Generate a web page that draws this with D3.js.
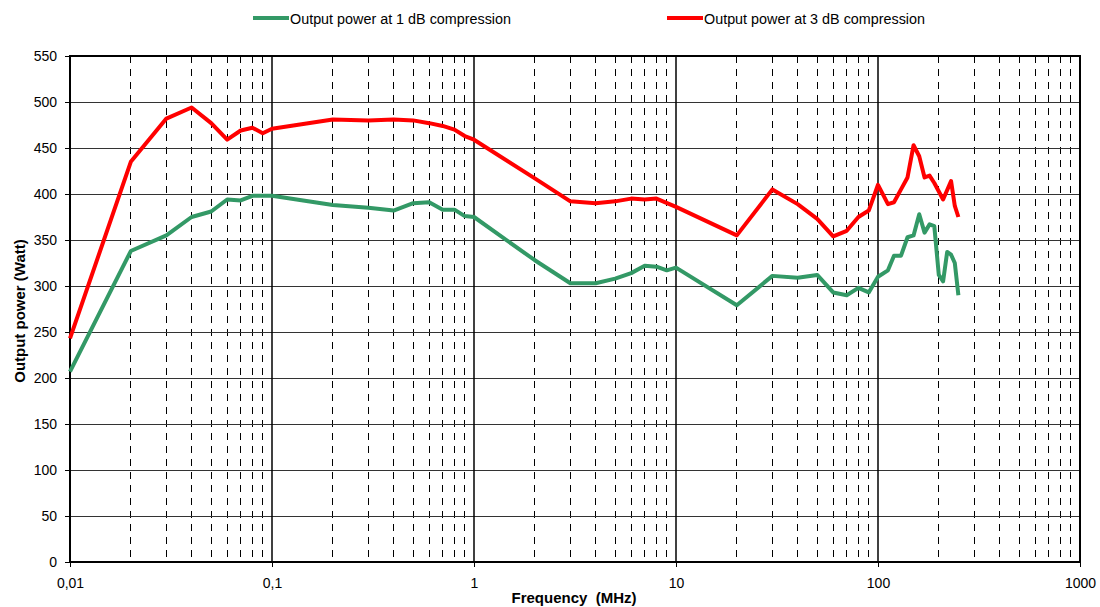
<!DOCTYPE html>
<html><head><meta charset="utf-8">
<script src="https://cdn.jsdelivr.net/npm/d3@7"></script>
<style>body{margin:0;background:#fff;} svg{display:block;font-family:"Liberation Sans",Arial,sans-serif;}</style>
</head><body>
<svg id="c" width="1100" height="607"></svg>
<script>
const freq1dB = [0.01,0.02,0.03,0.04,0.05,0.06,0.07,0.08,0.09,0.1,0.2,0.3,0.4,0.5,0.6,0.7,0.8,0.9,1,2,3,4,5,6,7,8,9,10,20,30,40,50,60,70,80,90,100,112,120,130,140,150,160,170,180,190,200,210,220,230,240,250];
const power1dB = [207,338,355,375,381,394,393,398,398,398,388,385,382,390,391,383,383,376,375,328,303,303,308,314,322,321,317,320,279,311,309,312,293,290,298,293,310,317,333,333,353,355,378,358,367,365,312,305,337,334,325,290];
const freq3dB = [0.01,0.02,0.03,0.04,0.05,0.06,0.07,0.08,0.09,0.1,0.2,0.3,0.4,0.5,0.6,0.7,0.8,0.9,1,2,3,4,5,6,7,8,10,20,30,40,50,60,70,80,90,100,112,120,130,140,150,160,170,180,190,210,230,240,250];
const power3dB = [243,435,482,494,477,459,469,472,466,471,481,480,481,480,477,474,470,463,459,417,392,390,392,395,394,395,386,355,405,389,373,354,360,375,382,410,389,391,405,418,453,441,418,420,412,394,414,387,375];
const yTicks = [0,50,100,150,200,250,300,350,400,450,500,550];
const xTicks = [0.01,0.1,1,10,100,1000];
const xTickLabels = ["0,01","0,1","1","10","100","1000"];
const seriesNames = ["Output power at 1 dB compression","Output power at 3 dB compression"];
const seriesColors = ["#339966","#FF0000"];

const svg = d3.select("#c");
const L=70, R=1080, T=56, B=562;
const x = d3.scaleLog().domain([0.01,1000]).range([L,R]);
const y = d3.scaleLinear().domain([0,550]).range([B,T]);

// minor vertical dashed lines
const minors=[];
[0.01,0.1,1,10,100].forEach(d=>{for(let k=2;k<=9;k++) minors.push(d*k);});
svg.append("g").selectAll("line").data(minors).join("line")
  .attr("x1",d=>x(d)).attr("x2",d=>x(d)).attr("y1",T).attr("y2",B)
  .attr("stroke","#000").attr("stroke-width",1).attr("stroke-dasharray","7,6").attr("shape-rendering","crispEdges");
// horizontal grid
svg.append("g").selectAll("line").data(yTicks.slice(1,-1)).join("line")
  .attr("x1",L).attr("x2",R).attr("y1",d=>y(d)).attr("y2",d=>y(d))
  .attr("stroke","#333").attr("stroke-width",1).attr("shape-rendering","crispEdges");
// major vertical
svg.append("g").selectAll("line").data(xTicks.slice(1,-1)).join("line")
  .attr("x1",d=>x(d)).attr("x2",d=>x(d)).attr("y1",T).attr("y2",B)
  .attr("stroke","#000").attr("stroke-width",1.5);
// border
svg.append("rect").attr("x",L).attr("y",T).attr("width",R-L).attr("height",B-T)
  .attr("fill","none").attr("stroke","#000").attr("stroke-width",2);

// axes
const yAxis = d3.axisLeft(y).tickValues(yTicks).tickSize(5).tickPadding(8);
const gy = svg.append("g").attr("transform",`translate(${L},0)`).call(yAxis);
gy.select(".domain").remove();
gy.selectAll("text").attr("font-size",14).attr("fill","#000").attr("font-family","Liberation Sans, Arial, sans-serif");
const xAxis = d3.axisBottom(x).tickValues(xTicks).tickFormat((d,i)=>xTickLabels[i]).tickSize(5).tickPadding(11);
const gx = svg.append("g").attr("transform",`translate(0,${B})`).call(xAxis);
gx.select(".domain").remove();
gx.selectAll("text").attr("font-size",14).attr("fill","#000").attr("font-family","Liberation Sans, Arial, sans-serif");

// lines
const line = d3.line().x(d=>x(d[0])).y(d=>y(d[1]));
const data1 = freq1dB.map((f,i)=>[f,power1dB[i]]);
const data3 = freq3dB.map((f,i)=>[f,power3dB[i]]);
svg.append("path").datum(data1).attr("d",line).attr("fill","none").attr("stroke",seriesColors[0]).attr("stroke-width",4).attr("stroke-linejoin","round");
svg.append("path").datum(data3).attr("d",line).attr("fill","none").attr("stroke",seriesColors[1]).attr("stroke-width",4).attr("stroke-linejoin","round");

// titles
svg.append("text").attr("x",574).attr("y",603).attr("text-anchor","middle").attr("font-size",15).attr("font-weight","bold").attr("xml:space","preserve").text("Frequency  (MHz)");
svg.append("text").attr("transform","translate(25,311) rotate(-90)").attr("text-anchor","middle").attr("font-size",15).attr("font-weight","bold").text("Output power (Watt)");

// legend
const lx=[253,667];
seriesNames.forEach((n,i)=>{
  svg.append("line").attr("x1",lx[i]).attr("x2",lx[i]+36).attr("y1",18).attr("y2",18).attr("stroke",seriesColors[i]).attr("stroke-width",4);
  svg.append("text").attr("x",lx[i]+37).attr("y",24).attr("font-size",14).attr("textLength",221).attr("lengthAdjust","spacingAndGlyphs").attr("fill","#000").text(n);
});
</script>
</body></html>
